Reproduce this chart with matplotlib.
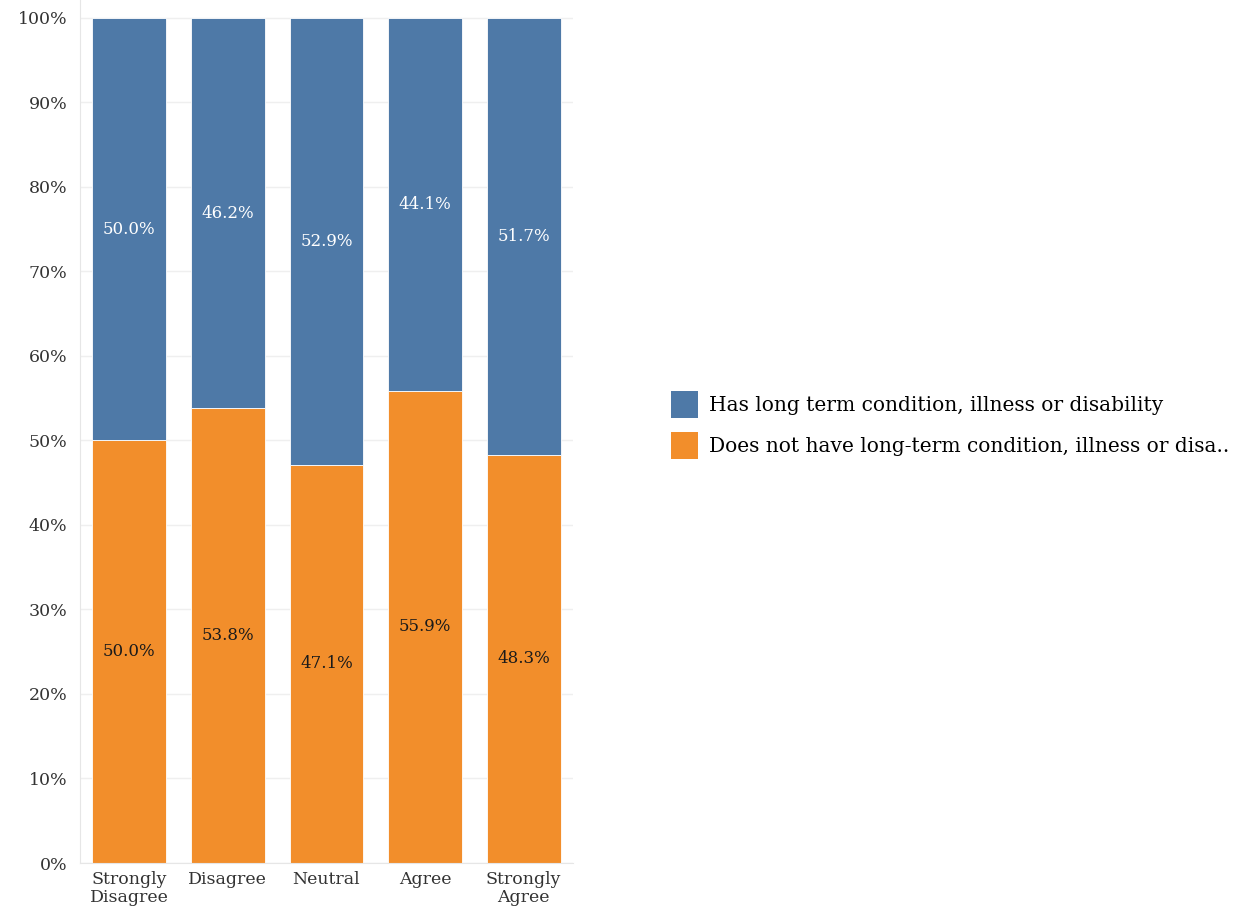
import matplotlib
matplotlib.use("Agg")
import matplotlib.pyplot as plt
from matplotlib.patches import Patch
from matplotlib.ticker import FuncFormatter

categories = ["Strongly\nDisagree", "Disagree", "Neutral", "Agree", "Strongly\nAgree"]
has_condition = [50.0, 46.2, 52.9, 44.1, 51.7]
no_condition = [50.0, 53.8, 47.1, 55.9, 48.3]
series_names = ["Has long term condition, illness or disability",
                "Does not have long-term condition, illness or disa.."]

BLUE = "#4E79A7"
ORANGE = "#F28E2B"
FONT = "DejaVu Serif"

plt.rcParams["font.family"] = [FONT]

fig = plt.figure(figsize=(12.56, 9.10), dpi=100)
ax = fig.add_axes([80 / 1256, 47 / 910, 493 / 1256, 863 / 910])

x = list(range(len(categories)))
ax.bar(x, no_condition, width=0.75, color=ORANGE, edgecolor="white", linewidth=0.6, zorder=2)
ax.bar(x, has_condition, width=0.75, bottom=no_condition, color=BLUE,
       edgecolor="white", linewidth=0.6, zorder=2)

for xi, lo, hi in zip(x, no_condition, has_condition):
    ax.text(xi, lo / 2, f"{lo:.1f}%", ha="center", va="center", fontsize=12,
            color="#1a1a1a", zorder=3)
    ax.text(xi, lo + hi / 2, f"{hi:.1f}%", ha="center", va="center", fontsize=12,
            color="white", zorder=3)

ax.set_xlim(-0.5, len(categories) - 0.5)
ax.set_ylim(0, 102.1)
ax.set_yticks(list(range(0, 101, 10)))
ax.yaxis.set_major_formatter(FuncFormatter(lambda v, p: f"{v:.0f}%"))
ax.grid(axis="y", color="#EFEFEF", linewidth=1, zorder=0)

ax.set_xticks(x)
ax.set_xticklabels(categories, fontsize=12.5, linespacing=1.05, color="#333333")
ax.tick_params(axis="x", length=0, pad=6)
ax.tick_params(axis="y", length=0, pad=9, labelsize=12.5, labelcolor="#333333")

for side in ["top", "right"]:
    ax.spines[side].set_visible(False)
ax.spines["left"].set_color("#E6E6E6")
ax.spines["bottom"].set_color("#E6E6E6")

handles = [Patch(facecolor=BLUE, edgecolor="none"), Patch(facecolor=ORANGE, edgecolor="none")]
fig.legend(handles, series_names, loc="upper left",
           bbox_to_anchor=(671 / 1256, 1 - 391 / 910), frameon=False,
           fontsize=14.5, handlelength=1.33, handleheight=1.65, handletextpad=0.55,
           labelspacing=0.72, borderaxespad=0, borderpad=0)

fig.savefig("out.png", dpi=100)
